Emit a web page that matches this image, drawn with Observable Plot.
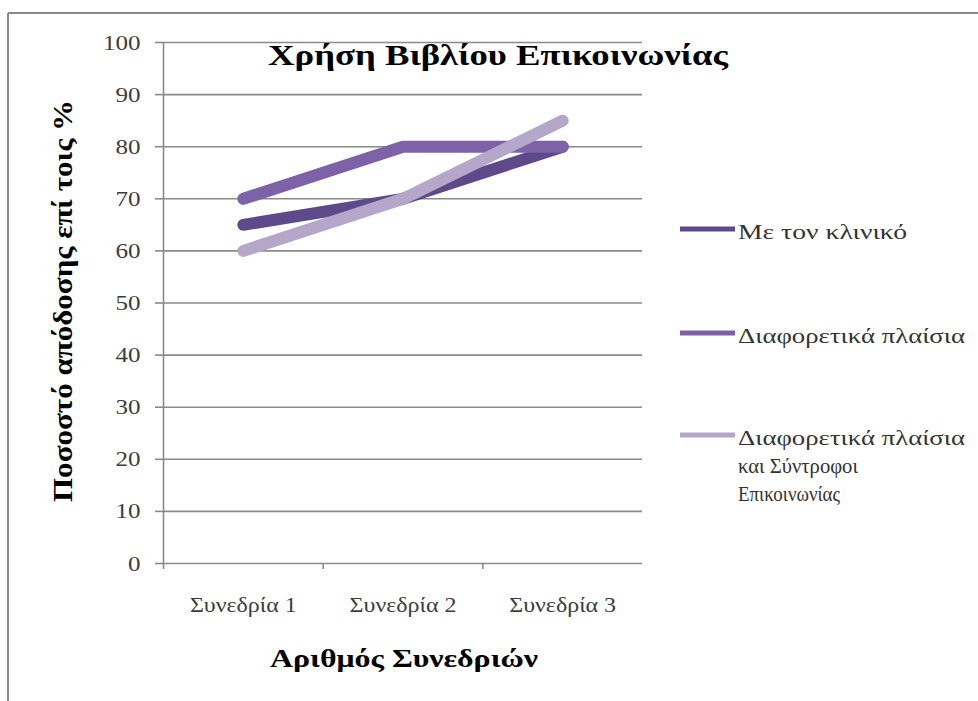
<!DOCTYPE html>
<html>
<head>
<meta charset="utf-8">
<script src="https://cdn.jsdelivr.net/npm/d3@7"></script>
<script src="https://cdn.jsdelivr.net/npm/@observablehq/plot@0.6"></script>
<style>
  html, body { margin: 0; padding: 0; background: #fff; }
  #chart svg { display: block; }
</style>
</head>
<body>
<div id="chart"></div>
<script>
const categories = ["Συνεδρία 1", "Συνεδρία 2", "Συνεδρία 3"];
const seriesNames = ["Με τον κλινικό", "Διαφορετικά πλαίσια", "Διαφορετικά πλαίσια και Σύντροφοι Επικοινωνίας"];
const legendLines = [["Με τον κλινικό"], ["Διαφορετικά πλαίσια"], ["Διαφορετικά πλαίσια", "και Σύντροφοι", "Επικοινωνίας"]];
const withClinician = [65, 70, 80];
const differentContexts = [70, 80, 80];
const contextsAndPartners = [60, 70, 85];
const yTicks = [0, 10, 20, 30, 40, 50, 60, 70, 80, 90, 100];
const colors = ["#5e4a8b", "#7e62a7", "#b4a7ca"];
const title = "Χρήση Βιβλίου Επικοινωνίας";
const yTitle = "Ποσοστό απόδοσης επί τοις %";
const xTitle = "Αριθμός Συνεδριών";

const seriesValues = [withClinician, differentContexts, contextsAndPartners];
const rows = [];
seriesNames.forEach((s, si) => {
  categories.forEach((c, ci) => rows.push({series: s, idx: ci + 1, value: seriesValues[si][ci]}));
});

const W = 978, H = 701;
const serif = "'Liberation Serif', 'DejaVu Serif', serif";

const chart = Plot.plot({
  width: W,
  height: H,
  marginLeft: 163,
  marginRight: 336,
  marginTop: 42,
  marginBottom: 138,
  style: {fontFamily: serif, background: "#fff", overflow: "visible"},
  x: {type: "linear", domain: [0.5, 3.5]},
  y: {domain: [0, 100]},
  color: {domain: seriesNames, range: colors},
  marks: [
    Plot.ruleY(yTicks, {stroke: "#8a8a8a", strokeWidth: 1.6}),
    Plot.axisY({ticks: yTicks, tickSize: 8, tickPadding: 15, fontSize: 22, fill: "#3c3c3c", stroke: "#8a8a8a", strokeWidth: 1.6, label: null}),
    Plot.ruleX([0.5], {y1: 0, y2: 100, stroke: "#8a8a8a", strokeWidth: 1.6}),
    Plot.axisX({ticks: [0.5, 1.5, 2.5], tickSize: 6, tickFormat: () => "", stroke: "#8a8a8a", strokeWidth: 1.6, label: null}),
    Plot.axisX({ticks: [1, 2, 3], tickSize: 0, tickPadding: 34, tickFormat: i => categories[i - 1], fontSize: 21, fill: "#3c3c3c", label: null}),
    Plot.line(rows, {x: "idx", y: "value", z: "series", stroke: "series", strokeWidth: 12, strokeLinecap: "round", strokeLinejoin: "round"})
  ]
});

document.getElementById("chart").appendChild(chart);
const svg = d3.select(chart);

// stretch tick labels to match the reference's wider glyphs
svg.selectAll("g[aria-label='y-axis tick label'] text, g[aria-label='x-axis tick label'] text").each(function() {
  const t = d3.select(this);
  if (!this.textContent) return;
  const len = this.getComputedTextLength();
  t.attr("textLength", len * 1.14).attr("lengthAdjust", "spacingAndGlyphs");
});

// border
svg.append("line").attr("x1", 8).attr("x2", W).attr("y1", 13).attr("y2", 13).attr("stroke", "#8a8a8a").attr("stroke-width", 2);
svg.append("line").attr("x1", 8).attr("x2", 8).attr("y1", 13).attr("y2", H).attr("stroke", "#8a8a8a").attr("stroke-width", 2);

// title
svg.append("text").attr("x", 498).attr("y", 65).attr("text-anchor", "middle")
  .attr("font-family", serif).attr("font-weight", "bold").attr("font-size", 30).attr("fill", "#000")
  .attr("textLength", 460).attr("lengthAdjust", "spacingAndGlyphs").text(title);

// y title
svg.append("text").attr("transform", "translate(72,301) rotate(-90)").attr("text-anchor", "middle")
  .attr("font-family", serif).attr("font-weight", "bold").attr("font-size", 28).attr("fill", "#000")
  .attr("textLength", 402).attr("lengthAdjust", "spacingAndGlyphs").text(yTitle);

// x title
svg.append("text").attr("x", 404).attr("y", 667).attr("text-anchor", "middle")
  .attr("font-family", serif).attr("font-weight", "bold").attr("font-size", 26).attr("fill", "#000")
  .attr("textLength", 268).attr("lengthAdjust", "spacingAndGlyphs").text(xTitle);

// legend
const legendY = [229, 333, 435];
const legendWidths = [[169], [227], [227, 120, 102]];
const lg = svg.append("g").attr("aria-label", "legend").attr("text-anchor", "start");
seriesNames.forEach((s, i) => {
  lg.append("line").attr("x1", 680).attr("x2", 735).attr("y1", legendY[i]).attr("y2", legendY[i])
    .attr("stroke", colors[i]).attr("stroke-width", 5);
  legendLines[i].forEach((ln, j) => {
    lg.append("text").attr("x", 738).attr("y", legendY[i] + 10 + j * 28)
      .attr("text-anchor", "start")
      .attr("font-family", serif).attr("font-size", 21).attr("fill", "#333")
      .attr("textLength", legendWidths[i][j]).attr("lengthAdjust", "spacingAndGlyphs").text(ln);
  });
});
</script>
</body>
</html>
